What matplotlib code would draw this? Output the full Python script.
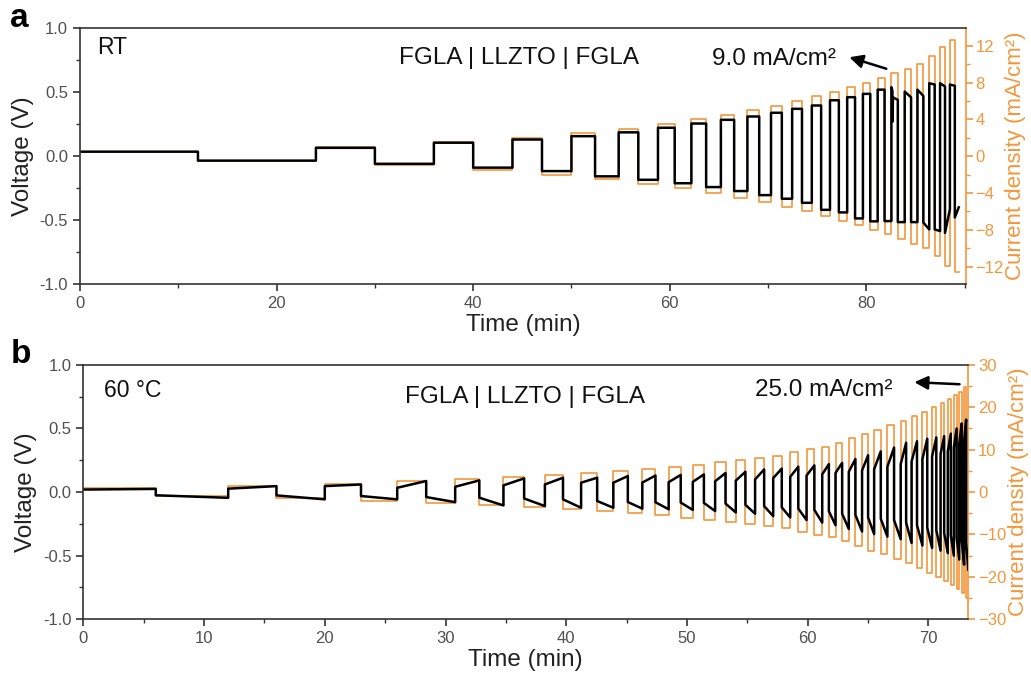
import matplotlib
matplotlib.use("Agg")
import matplotlib.pyplot as plt
from matplotlib.ticker import MultipleLocator

plt.rcParams['font.family'] = ['Liberation Sans', 'DejaVu Sans']

ORANGE = '#F4973B'
GRAY = '#505050'

# ---------------- panel a (RT) ----------------
a_bounds = [0, 12, 24, 30, 36, 40, 44, 47, 50, 52.4, 54.8, 56.8, 58.8, 60.5, 62.2, 63.7,
            65.2, 66.55, 67.9, 69.1, 70.3, 71.4, 72.45, 73.45, 74.45, 75.4, 76.3, 77.2,
            78.05, 78.85, 79.65, 80.4, 81.15, 81.85, 82.55, 83.2, 83.9, 84.55, 85.2, 85.8,
            86.4, 86.95, 87.5, 88.0, 88.5, 89.0, 89.4]
a_current = [0.5, 1.0, 1.5, 2.0, 2.5, 3.0, 3.5, 4.0, 4.5, 5.0, 5.5, 6.0, 6.5, 7.0, 7.5,
             8.0, 8.5, 9.0, 9.5, 10.0, 10.9, 11.9, 12.6]
a_pos_v0 = [0.035, 0.065, 0.105, 0.13, 0.156, 0.186, 0.222, 0.255, 0.284, 0.31, 0.339, 0.37,
            0.396, 0.437, 0.461, 0.487, 0.52, 0.54, 0.505, 0.52, 0.57, 0.57, 0.56]
a_pos_v1 = [0.035, 0.065, 0.105, 0.13, 0.156, 0.186, 0.222, 0.255, 0.284, 0.31, 0.339, 0.37,
            0.396, 0.437, 0.461, 0.487, 0.52, 0.44, 0.46, 0.47, 0.56, 0.545, 0.55]
a_neg_v0 = [-0.035, -0.06, -0.09, -0.117, -0.158, -0.185, -0.212, -0.242, -0.273, -0.305,
            -0.333, -0.365, -0.42, -0.44, -0.487, -0.51, -0.508, -0.516, -0.516, -0.52,
            -0.573, -0.6, -0.48]
a_neg_v1 = [-0.035, -0.06, -0.09, -0.117, -0.158, -0.185, -0.212, -0.242, -0.273, -0.305,
            -0.333, -0.365, -0.42, -0.44, -0.487, -0.51, -0.508, -0.516, -0.516, -0.573,
            -0.586, -0.417, -0.40]
a_spike_t = [82.65]
a_spike_v = [0.27]

# ---------------- panel b (60 C) ----------------
b_bounds = [0, 6, 12, 16, 20, 23, 26, 28.4, 30.8, 32.8, 34.8, 36.51, 38.23, 39.73, 41.23,
            42.56, 43.9, 45.1, 46.3, 47.39, 48.48, 49.48, 50.48, 51.4, 52.33, 53.19, 54.04,
            54.84, 55.64, 56.39, 57.14, 57.85, 58.55, 59.22, 59.9, 60.55, 61.2, 61.75, 62.3,
            62.85, 63.4, 63.95, 64.5, 65.0, 65.5, 66.05, 66.6, 67.15, 67.7, 68.15, 68.6,
            69.05, 69.5, 69.9, 70.3, 70.65, 71.0, 71.3, 71.6, 71.85, 72.1, 72.33, 72.55,
            72.75, 72.95, 73.12, 73.3]
b_current = [1.0, 1.5, 2.0, 2.5, 3.0, 3.5, 4.0, 4.5, 5.0, 5.5, 6.0, 6.5, 7.0, 7.5, 8.0, 8.5,
             9.5, 10.1, 10.7, 11.5, 12.8, 13.8, 14.6, 15.8, 16.8, 17.9, 19.0, 20.0, 20.9,
             21.9, 22.9, 23.7, 24.9]
b_pos_v0 = [0.02, 0.027, 0.047, 0.034, 0.042, 0.053, 0.06, 0.074, 0.074, 0.075, 0.078, 0.08,
            0.085, 0.09, 0.10, 0.11, 0.12, 0.13, 0.14, 0.15, 0.16, 0.17, 0.18, 0.20, 0.22,
            0.24, 0.26, 0.28, 0.30, 0.32, 0.35, 0.38, 0.40]
b_pos_v1 = [0.025, 0.047, 0.06, 0.087, 0.092, 0.108, 0.113, 0.113, 0.126, 0.13, 0.135, 0.139,
            0.15, 0.16, 0.178, 0.185, 0.20, 0.21, 0.22, 0.23, 0.26, 0.29, 0.32, 0.35, 0.388,
            0.40, 0.42, 0.43, 0.44, 0.46, 0.50, 0.54, 0.57]
b_neg_v0 = [-0.025, -0.026, -0.031, -0.039, -0.044, -0.05, -0.057, -0.07, -0.078, -0.08,
            -0.082, -0.085, -0.09, -0.10, -0.11, -0.12, -0.13, -0.14, -0.15, -0.17, -0.18,
            -0.20, -0.21, -0.22, -0.24, -0.26, -0.28, -0.30, -0.32, -0.34, -0.36, -0.38, -0.40]
b_neg_v1 = [-0.045, -0.057, -0.057, -0.079, -0.105, -0.11, -0.123, -0.123, -0.13, -0.135,
            -0.14, -0.149, -0.16, -0.17, -0.189, -0.20, -0.22, -0.24, -0.26, -0.29, -0.31,
            -0.33, -0.35, -0.37, -0.40, -0.42, -0.44, -0.46, -0.48, -0.50, -0.53, -0.57, -0.61]


def build(bounds, cur, pv0, pv1, nv0, nv1, spike_t=(), spike_v=()):
    tc, jc, tv, vv = [], [], [], []
    n = len(bounds) - 1
    for i in range(n):
        k, neg = divmod(i, 2)
        t0, t1 = bounds[i], bounds[i + 1]
        c = -cur[k] if neg else cur[k]
        tc += [t0, t1]
        jc += [c, c]
        if neg:
            tv += [t0, t1]
            vv += [nv0[k], nv1[k]]
        else:
            seg_t, seg_v = [t0], [pv0[k]]
            for st, sv in zip(spike_t, spike_v):
                if t0 < st < t1:
                    seg_t += [st, st + 0.02, st + 0.05]
                    seg_v += [pv0[k] - 0.03, sv, pv0[k] - 0.08]
            seg_t.append(t1)
            seg_v.append(pv1[k])
            tv += seg_t
            vv += seg_v
    return tc, jc, tv, vv


def style_axes(ax, ax2, xmax, xmaj, xmin_, jlim, jmaj, jmin):
    ax.set_xlim(0, xmax)
    ax.set_ylim(-1.0, 1.0)
    ax.xaxis.set_major_locator(MultipleLocator(xmaj))
    ax.xaxis.set_minor_locator(MultipleLocator(xmin_))
    ax.yaxis.set_major_locator(MultipleLocator(0.5))
    ax.yaxis.set_minor_locator(MultipleLocator(0.25))
    ax.yaxis.set_major_formatter(plt.FuncFormatter(lambda v, p: f"{v:.1f}"))
    ax.tick_params(axis='both', which='both', direction='out', colors='#333333',
                   labelcolor=GRAY, labelsize=12)
    ax.tick_params(which='major', length=5, width=1.2)
    ax.tick_params(which='minor', length=3, width=1.0)
    ax.tick_params(axis='y', which='both', right=False)
    ax.tick_params(axis='x', which='both', top=False)
    for s in ['left', 'bottom', 'top']:
        ax.spines[s].set_color('#333333')
        ax.spines[s].set_linewidth(1.2)
    ax.spines['right'].set_visible(False)
    ax.set_ylabel('Voltage (V)', fontsize=17.5, color='#222222', labelpad=4)
    ax.set_xlabel('Time (min)', fontsize=17.5, color='#222222', labelpad=2)

    ax2.set_ylim(-jlim, jlim)
    ax2.yaxis.set_major_locator(MultipleLocator(jmaj))
    ax2.yaxis.set_minor_locator(MultipleLocator(jmin))
    ax2.tick_params(axis='y', which='both', direction='out', colors=ORANGE,
                    labelcolor=ORANGE, labelsize=12, pad=2)
    ax2.tick_params(which='major', length=5, width=1.2)
    ax2.tick_params(which='minor', length=3, width=1.0)
    for s in ['left', 'bottom', 'top']:
        ax2.spines[s].set_visible(False)
    ax2.spines['right'].set_color(ORANGE)
    ax2.spines['right'].set_linewidth(1.2)
    ax2.set_ylabel('Current density (mA/cm\u00b2)', fontsize=16, color=ORANGE, labelpad=1)


fig = plt.figure(figsize=(10.31, 6.73), dpi=100)

# panel a
axA = fig.add_axes([0.0776, 0.578, 0.859, 0.380])
axA2 = axA.twinx()
tc, jc, tv, vv = build(a_bounds, a_current, a_pos_v0, a_pos_v1, a_neg_v0, a_neg_v1,
                       a_spike_t, a_spike_v)
axA.plot(tv, vv, color='black', lw=1.8, zorder=2)
axA2.plot(tc, jc, color=ORANGE, lw=1.2, zorder=3)
style_axes(axA, axA2, 90.1, 20, 10, 13.9, 4, 2)
axA.set_zorder(axA2.get_zorder() + 1)
axA.patch.set_visible(False)
axA.text(1.7, 0.85, 'RT', fontsize=16.5, va='center', ha='left', color='#111111')
axA.text(44.7, 0.77, 'FGLA | LLZTO | FGLA', fontsize=17.5, va='center', ha='center',
         color='#111111')
axA.text(64.3, 0.76, '9.0 mA/cm\u00b2', fontsize=17.5, va='center', ha='left', color='#111111')
axA.annotate('', xy=(78.0, 0.78), xytext=(82.3, 0.677),
             arrowprops=dict(arrowstyle='-|>', color='black', lw=1.8, mutation_scale=20))

# panel b
axB = fig.add_axes([0.0808, 0.0798, 0.8584, 0.378])
axB2 = axB.twinx()
tc, jc, tv, vv = build(b_bounds, b_current, b_pos_v0, b_pos_v1, b_neg_v0, b_neg_v1)
axB.plot(tv, vv, color='black', lw=1.8, zorder=2)
axB2.plot(tc, jc, color=ORANGE, lw=1.2, zorder=3)
style_axes(axB, axB2, 73.3, 10, 5, 30, 10, 5)
axB.set_zorder(axB2.get_zorder() + 1)
axB.patch.set_visible(False)
axB.text(1.7, 0.80, '60 \u00b0C', fontsize=16.5, va='center', ha='left', color='#111111')
axB.text(36.6, 0.745, 'FGLA | LLZTO | FGLA', fontsize=17.5, va='center', ha='center',
         color='#111111')
axB.text(55.6, 0.80, '25.0 mA/cm\u00b2', fontsize=17.5, va='center', ha='left', color='#111111')
axB.annotate('', xy=(68.6, 0.865), xytext=(72.8, 0.847),
             arrowprops=dict(arrowstyle='-|>', color='black', lw=1.8, mutation_scale=20))

fig.text(0.010, 0.972, 'a', fontsize=24, fontweight='bold', va='center', ha='left')
fig.text(0.010, 0.473, 'b', fontsize=24, fontweight='bold', va='center', ha='left')

fig.savefig('out.png', dpi=100)
